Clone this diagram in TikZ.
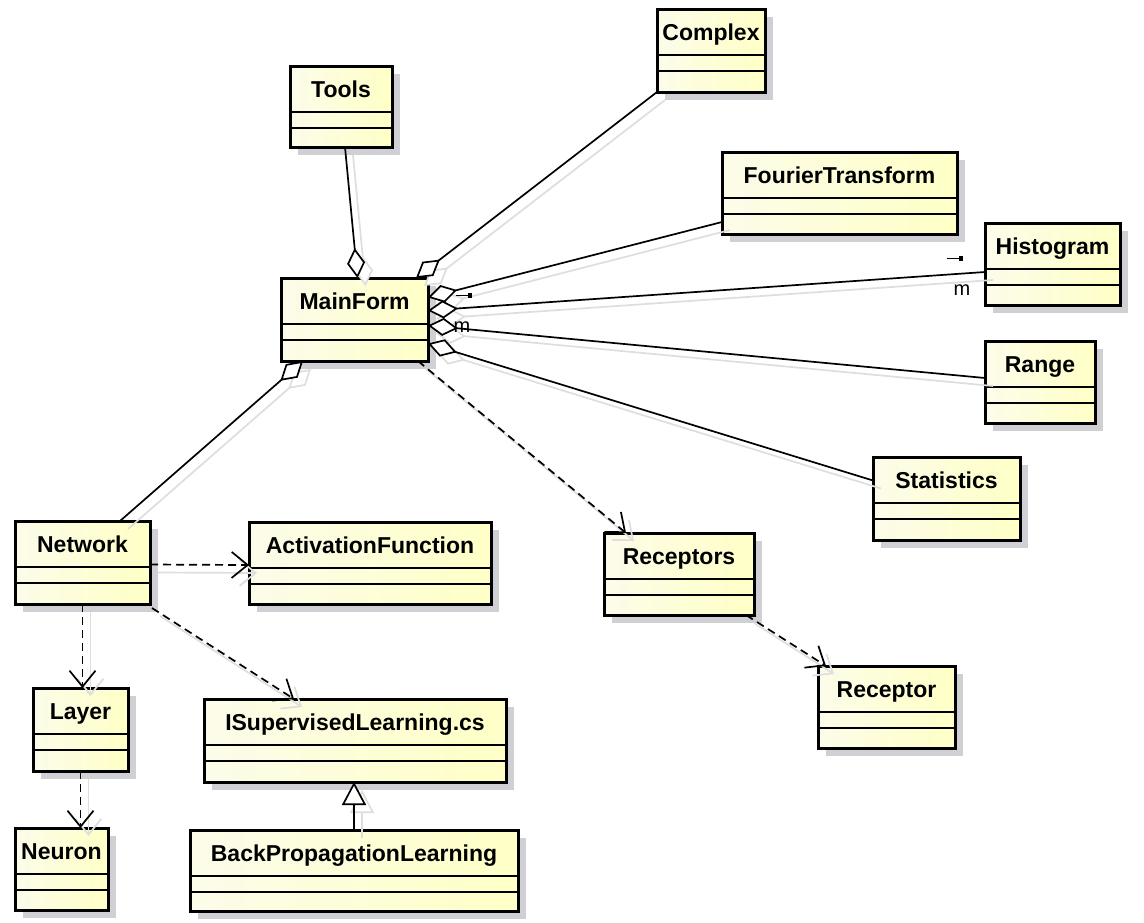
\documentclass[tikz,border=0pt]{standalone}
\usepackage{fontspec}
\setmainfont{Liberation Sans}
\usetikzlibrary{arrows.meta,calc,shadows}
\definecolor{clsleft}{RGB}{252,252,234}
\definecolor{clsright}{RGB}{255,255,198}
\definecolor{clsshadow}{RGB}{208,208,212}

% class box: name, x1, y1, x2, y2, title
\newcommand{\umlclass}[6]{%
  \node[cls, minimum width={(#4-#2)*0.5pt}, minimum height={(#5-#3)*0.5pt}] (#1) at (#2,#3) {};
  \node[clstitle] at ($(#1.north)+(0,31)$) {#6};
  \draw[line width=0.8pt] ($(#1.north west)+(0,46)$) -- ($(#1.north east)+(0,46)$);
  \draw[line width=0.8pt] ($(#1.north west)+(0,62)$) -- ($(#1.north east)+(0,62)$);
}
\newcommand{\rolemark}{\rule[2.2pt]{6pt}{0.6pt}\rule[1.3pt]{2.4pt}{2.4pt}}

\begin{document}
\begin{tikzpicture}[x=0.5pt, y=-0.5pt, line width=0.85pt]
  \tikzstyle{cls}=[draw, line width=1.5pt, left color=clsleft, right color=clsright,
    anchor=north west, inner sep=0pt, outer sep=0pt,
    drop shadow={shadow xshift=4pt, shadow yshift=-4pt, fill=clsshadow, opacity=1}]
  \tikzstyle{clstitle}=[anchor=base, inner sep=0pt, font=\fontsize{11.5}{13}\selectfont\bfseries]
  \tikzstyle{mult}=[inner sep=0pt, font=\fontsize{10}{12}\selectfont]
  \tikzstyle{lshadow}=[preaction={draw=black!13, solid, transform canvas={shift={(4pt,-4pt)}}}]
  \tikzstyle{aggr}=[lshadow, -{Diamond[fill=white, length=15pt, width=9pt]}]
  \tikzstyle{dep}=[lshadow, dash pattern=on 4pt off 2.5pt, -{Straight Barb[length=8pt, width=13pt]}]
  \tikzstyle{gen}=[lshadow, -{Triangle[fill=white, length=11.5pt, width=12pt]}]

  \fill[white] (0,0) rectangle (1144,922);
  \useasboundingbox (0,0) rectangle (1144,922);

  \umlclass{TL}{290}{66}{392}{147}{Tools}
  \umlclass{CX}{657}{9}{765}{92}{Complex}
  \umlclass{FT}{722}{152}{957}{234}{FourierTransform}
  \umlclass{HG}{985}{223}{1120}{305}{Histogram}
  \umlclass{RG}{985}{341}{1095}{423}{Range}
  \umlclass{ST}{873}{457}{1020}{540}{Statistics}
  \umlclass{MF}{281}{278}{428}{361}{MainForm}
  \umlclass{NW}{15}{521}{150}{604}{Network}
  \umlclass{AF}{249}{522}{491}{604}{ActivationFunction}
  \umlclass{RS}{604}{533}{754}{615}{Receptors}
  \umlclass{RC}{818}{666}{955}{748}{Receptor}
  \umlclass{LY}{33}{688}{128}{771}{Layer}
  \umlclass{SL}{204}{699}{506}{782}{ISupervisedLearning.cs}
  \umlclass{NR}{15}{828}{108}{910}{Neuron}
  \umlclass{BP}{190}{830}{518}{911}{BackPropagationLearning}

  % aggregations into MainForm
  \draw[aggr] ($(TL.south)+(4,0)$) -- ($(MF.north)+(3,0)$);
  \draw[aggr] (CX.south west) -- ($(MF.north east)+(-12,0)$);
  \draw[aggr] ($(FT.south west)+(0,-12)$) -- ($(MF.east)+(0,-22)$);
  \draw[aggr] ($(HG.west)+(0,8)$) -- ($(MF.east)+(0,-9)$);
  \draw[aggr] ($(RG.west)+(0,-4)$) -- ($(MF.east)+(0,6)$);
  \draw[aggr] ($(ST.west)+(0,-18)$) -- ($(MF.east)+(0,24)$);
  \draw[aggr] ($(NW.north east)+(-30,0)$) -- ($(MF.south west)+(22,0)$);

  \node[mult] (mfend) at (464,297) {\rolemark};
  \node[mult] (mfm) at (462,327) {m};
  \node[mult] (hgend) at (955,260) {\rolemark};
  \node[mult] (hgm) at (962,290) {m};

  % dependencies
  \draw[dep] ($(MF.south east)+(-10,0)$) -- ($(RS.north west)+(22,0)$);
  \draw[dep] ($(RS.south east)+(-8,0)$) -- ($(RC.north west)+(8,0)$);
  \draw[dep] ($(NW.east)+(0,2)$) -- ($(AF.west)+(0,2)$);
  \draw[dep] (NW.south) -- (NW.south |- LY.north);
  \draw[dep] ($(NW.south east)+(2,4)$) -- ($(SL.north west)+(90,0)$);
  \draw[dep] (LY.south) -- (LY.south |- NR.north);

  % generalization
  \draw[gen] (BP.north) -- (BP.north |- SL.south);
\end{tikzpicture}
\end{document}
